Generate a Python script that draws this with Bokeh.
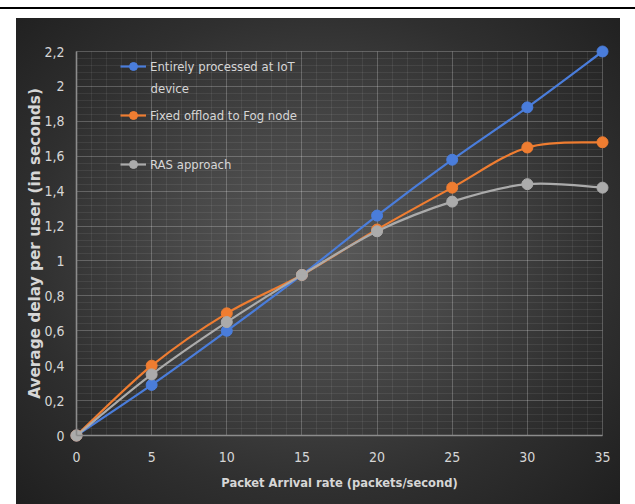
import numpy as np
from bokeh.plotting import figure
from bokeh.models import (Range1d, Legend, LegendItem, ColumnDataSource, Label,
                          SingleIntervalTicker, CustomJSTickFormatter)
from bokeh.embed import file_html
from bokeh.resources import INLINE

# --- data -----------------------------------------------------------------
rate = [0, 5, 10, 15, 20, 25, 30, 35]
iot_device = [0, 0.29, 0.60, 0.92, 1.26, 1.58, 1.88, 2.20]
fog_offload = [0, 0.40, 0.70, 0.92, 1.18, 1.42, 1.65, 1.68]
ras_approach = [0, 0.35, 0.65, 0.92, 1.17, 1.34, 1.44, 1.42]

series_labels = ["Entirely processed at IoT",
                 "Fixed offload to Fog node",
                 "RAS approach"]
label_wrap = "device"
series_colors = ["#4a7ddb", "#ef7d31", "#ababab"]

x_title = "Packet Arrival rate (packets/second)"
y_title = "Average delay per user (in seconds)"

NARROW = "DejaVu Sans Condensed"
WIDE_BOLD = "DejaVu Sans"
TEXT = "#d6d6d6"


def smooth_segments(xs, ys):
    """Cubic Bezier segments (Catmull-Rom style) through the data points."""
    xs = np.asarray(xs, float)
    ys = np.asarray(ys, float)
    n = len(xs)
    qx = np.concatenate([[xs[0]], xs, [xs[-1]]])
    qy = np.concatenate([[ys[0]], ys, [ys[-1]]])
    return dict(
        x0=xs[:-1], y0=ys[:-1], x1=xs[1:], y1=ys[1:],
        cx0=qx[1:n] + (qx[2:n + 1] - qx[0:n - 1]) / 6.0,
        cy0=qy[1:n] + (qy[2:n + 1] - qy[0:n - 1]) / 6.0,
        cx1=qx[2:n + 1] - (qx[3:n + 2] - qx[1:n]) / 6.0,
        cy1=qy[2:n + 1] - (qy[3:n + 2] - qy[1:n]) / 6.0,
    )


# the frame fills the whole dark panel; axes sit inside it at x=0 / y=0
p = figure(width=635, height=504,
           x_range=Range1d(-3.9924, 36.1977),
           y_range=Range1d(-0.3953, 2.3891),
           output_backend="svg", toolbar_location=None,
           min_border_left=16, min_border_right=15,
           min_border_top=18, min_border_bottom=0)

# transparent canvas over a CSS backdrop: rule line + dark radial panel
p.border_fill_color = None
p.background_fill_color = None
p.outline_line_color = None
p.styles = {
    "background": (
        "linear-gradient(#000, #000) 0px 7px / 100% 2px no-repeat, "
        "radial-gradient(ellipse farthest-corner at 50% 48%, "
        "#5a5a5a 0%, #474747 33%, #2f2f2f 68%, #1f1f1f 100%) "
        "16px 18px / 604px 486px no-repeat, #ffffff"
    )
}

# axes
p.xaxis.ticker = SingleIntervalTicker(interval=5, num_minor_ticks=5)
p.yaxis.ticker = SingleIntervalTicker(interval=0.2, num_minor_ticks=5)
p.yaxis.formatter = CustomJSTickFormatter(
    code="return (Math.round(tick * 10) / 10).toString().replace('.', ',');")
p.xaxis.bounds = (0, 35)
p.yaxis.bounds = (0, 2.2)
p.xaxis.fixed_location = 0
p.yaxis.fixed_location = 0

for ax in (p.xaxis[0], p.yaxis[0]):
    ax.axis_line_color = "#8c8c8c"
    ax.axis_line_width = 1.6
    ax.major_tick_line_color = None
    ax.minor_tick_line_color = None
    ax.major_label_text_font = NARROW
    ax.major_label_text_font_size = "14px"
    ax.major_label_text_color = TEXT
    ax.axis_label_text_color = TEXT
    ax.axis_label_text_font_style = "bold"

p.xaxis.axis_label = x_title
p.xaxis.axis_label_text_font = NARROW
p.xaxis.axis_label_text_font_size = "12.8px"
p.xaxis.major_label_standoff = 10
p.xaxis.axis_label_standoff = 10
p.yaxis.axis_label = y_title
p.yaxis.axis_label_text_font = WIDE_BOLD
p.yaxis.axis_label_text_font_size = "15.3px"
p.yaxis.major_label_standoff = 6
p.yaxis.axis_label_standoff = -3

# grid
for g in (p.xgrid[0], p.ygrid[0]):
    g.grid_line_color = "#ffffff"
    g.grid_line_alpha = 0.17
    g.grid_line_width = 1
    g.minor_grid_line_color = "#ffffff"
    g.minor_grid_line_alpha = 0.07
p.xgrid.bounds = (0, 35)
p.ygrid.bounds = (0, 2.2)
p.xgrid.cross_bounds = (0, 2.2)
p.ygrid.cross_bounds = (0, 35)

# series: smoothed line + circle markers
items = []
for vals, label, color in zip([iot_device, fog_offload, ras_approach],
                              series_labels, series_colors):
    seg = ColumnDataSource(smooth_segments(rate, vals))
    curve = p.bezier(x0="x0", y0="y0", x1="x1", y1="y1",
                     cx0="cx0", cy0="cy0", cx1="cx1", cy1="cy1",
                     source=seg, line_color=color, line_width=2.2)
    pts = p.scatter(rate, vals, marker="circle", size=11,
                    fill_color=color, line_color=color, line_width=1)
    items.append(LegendItem(label=label, renderers=[curve, pts]))

legend = Legend(items=items, location=(104, 330),
                background_fill_alpha=0, border_line_color=None,
                label_text_font=NARROW, label_text_font_size="13px",
                label_text_color=TEXT, glyph_width=26, glyph_height=20,
                label_standoff=4, padding=0, margin=0, spacing=29)
p.add_layout(legend, "center")

# second line of the first legend entry
p.add_layout(Label(x=134, y=416, x_units="screen", y_units="screen",
                   text=label_wrap, text_font=NARROW, text_font_size="13px",
                   text_color=TEXT, text_baseline="middle"))

open("out.html", "w").write(file_html(p, INLINE))
